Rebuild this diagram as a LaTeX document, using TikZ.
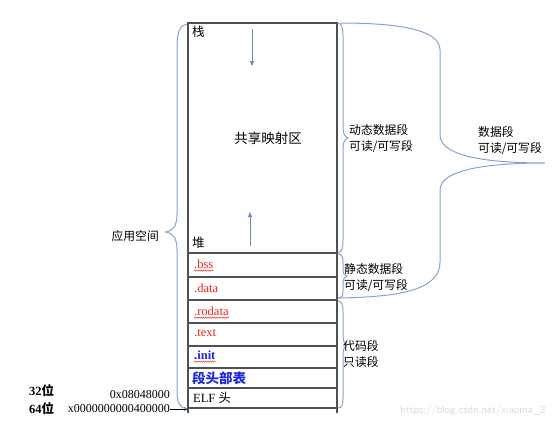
\documentclass[tikz,border=0pt]{standalone}
\usepackage{fontspec}
\setmainfont{Liberation Serif}
\newfontfamily\cjk{Noto Sans CJK SC}
\usetikzlibrary{arrows.meta, decorations.pathmorphing}

\definecolor{bracecol}{RGB}{135,163,205}
\definecolor{arrowcol}{RGB}{105,140,190}
\definecolor{boxcol}{RGB}{80,80,80}
\definecolor{segred}{RGB}{235,35,35}
\definecolor{segblue}{RGB}{25,40,225}

\tikzset{
    seg/.style={anchor=west, inner sep=0pt, font=\fontsize{12.5}{13}\selectfont},
    lbl/.style={anchor=west, inner sep=0pt, align=left, font=\cjk\fontsize{11.8}{16}\selectfont},
    brc/.style={draw=bracecol, line width=1pt},
    wall/.style={draw=boxcol, line width=1.2pt},
    squig/.style={draw=segred, line width=0.4pt, decorate, decoration={snake, amplitude=0.7pt, segment length=2.2pt}},
}

\begin{document}
\begin{tikzpicture}[x=1pt, y=-1pt]
    \useasboundingbox (0,0) rectangle (557,423);

    % memory layout
    \draw[wall] (188,413) -- (188,23) -- (337,23) -- (337,413);
    \foreach \y in {253,277,300,323,346,368,388,408}
        \draw[wall] (188,\y) -- (337,\y);

    \node[seg, font=\cjk\fontsize{12.5}{12}\selectfont] (stack) at (192,32) {栈};
    \node[seg, font=\cjk\fontsize{12.5}{12}\selectfont] (heap) at (192,243) {堆};
    \node[font=\cjk\fontsize{13.5}{12}\selectfont] (mmap) at (268,138) {共享映射区};
    \node[seg, text=segred] (bss) at (194,264) {.bss};
    \node[seg, text=segred] (data) at (194,288) {.data};
    \node[seg, text=segred] (rodata) at (194,311) {.rodata};
    \node[seg, text=segred] (text) at (194,333) {.text};
    \node[seg, text=segblue, font=\bfseries\fontsize{12.5}{13}\selectfont] (init) at (194,355) {.init};
    \node[seg, text=segblue, font=\cjk\bfseries\fontsize{13.5}{14}\selectfont] (phdr) at (192,378) {段头部表};
    \node[seg] (elf) at (193,398) {ELF {\cjk 头}};

    \draw[squig] ([yshift=-2pt]bss.south west) -- ([yshift=-2pt]bss.south east);
    \draw[squig] ([yshift=-2pt]rodata.south west) -- ([yshift=-2pt]rodata.south east);
    \draw[squig] ([yshift=-2pt]init.south west) -- ([yshift=-2pt]init.south east);

    % growth arrows
    \coordinate (s1) at (252,29);
    \coordinate (s2) at (252,66);
    \coordinate (h1) at (250,246);
    \coordinate (h2) at (250,212);
    \draw[arrowcol, line width=1pt, -{Triangle[length=5pt, width=4pt]}] (s1) -- (s2);
    \draw[arrowcol, line width=1pt, -{Triangle[length=5pt, width=4pt]}] (h1) -- (h2);

    % addresses
    \node[anchor=west, inner sep=0pt, font=\bfseries\fontsize{12.5}{12}\selectfont] (b32) at (29,391) {32{\cjk 位}};
    \node[anchor=west, inner sep=0pt, font=\bfseries\fontsize{12.5}{12}\selectfont] (b64) at (29,409) {64{\cjk 位}};
    \node[anchor=east, inner sep=0pt, font=\fontsize{12}{12}\selectfont] (a32) at (170,395) {0x08048000};
    \node[anchor=east, inner sep=0pt, font=\fontsize{12}{12}\selectfont] (a64) at (170,409) {x0000000000400000};
    \coordinate (base) at (188,409);
    \draw[-{Stealth[length=4pt, width=3.5pt]}, line width=0.6pt] (a64) -- (base);

    % braces
    \draw[brc] (187,24) .. controls (180,25) and (177,32) .. (177,48) -- (177,214)
        .. controls (177,226) and (173,231) .. (166,232)
        .. controls (173,233) and (177,238) .. (177,250) -- (177,392)
        .. controls (177,403) and (180,408) .. (187,409);
    \draw[brc] (338,23) .. controls (342,24) and (343,28) .. (343,36) -- (343,128)
        .. controls (343,134) and (345,137) .. (348,138)
        .. controls (345,139) and (343,142) .. (343,148) -- (343,240)
        .. controls (343,248) and (342,252) .. (338,253);
    \draw[brc] (338,254) .. controls (342,254) and (343,257) .. (343,262) -- (343,270)
        .. controls (343,274) and (345,276) .. (347,276)
        .. controls (345,277) and (343,279) .. (343,283) -- (343,291)
        .. controls (343,296) and (342,298) .. (338,298);
    \draw[brc] (338,301) .. controls (342,301) and (343,305) .. (343,312) -- (343,336)
        .. controls (343,342) and (345,344) .. (347,345)
        .. controls (345,346) and (343,349) .. (343,354) -- (343,398)
        .. controls (343,405) and (342,408) .. (338,408);
    \draw[brc] (340,23) .. controls (400,23) and (440,30) .. (440,50) -- (440,135)
        .. controls (440,158) and (495,163) .. (545,163)
        .. controls (495,163) and (440,168) .. (440,190) -- (440,262)
        .. controls (440,290) and (400,297) .. (338,298);

    % labels
    \node[lbl, anchor=east] (app) at (159,236) {应用空间};
    \node[lbl] (dyn) at (349,139) {动态数据段\\可读/可写段};
    \node[lbl] (sta) at (344,278) {静态数据段\\可读/可写段};
    \node[lbl] (code) at (343,354) {代码段\\只读段};
    \node[lbl] (dseg) at (478,141) {数据段\\可读/可写段};

    \node[anchor=west, inner sep=0pt, text=black!15, font=\sffamily\fontsize{11}{11}\selectfont] (mark) at (400,411) {https://blog.csdn.net/xiaoma\_2};
\end{tikzpicture}
\end{document}
